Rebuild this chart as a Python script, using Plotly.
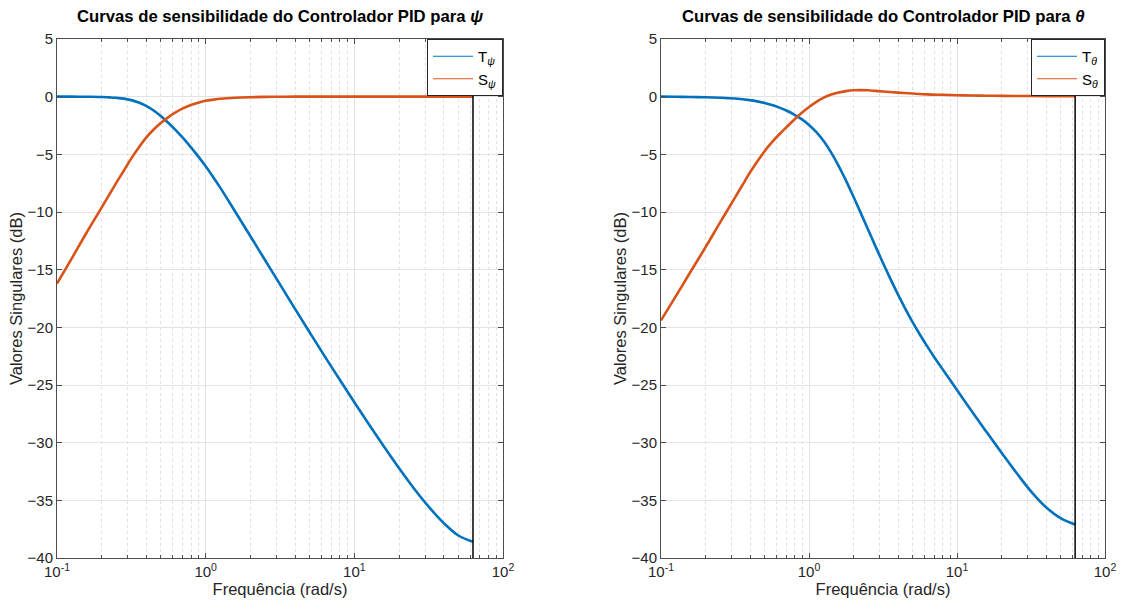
import plotly.graph_objects as go

# ---------------- data ----------------
nyquist_freq = 62.83

psi_T_freq = [0.1, 0.126, 0.158, 0.2, 0.224, 0.251, 0.282, 0.316, 0.355, 0.398, 0.447, 0.501, 0.562, 0.631,
              0.708, 0.794, 0.891, 1.0, 1.122, 1.259, 1.585, 1.995, 2.512, 3.162, 3.981, 5.012, 6.31, 7.943,
              10.0, 12.59, 15.85, 19.95, 25.12, 31.62, 39.81, 50.12, 62.83]
psi_T_db   = [0.0, 0.0, -0.01, -0.03, -0.06, -0.1, -0.17, -0.3, -0.5, -0.8, -1.2, -1.7, -2.28, -2.92,
              -3.62, -4.37, -5.18, -6.04, -6.96, -7.93, -10.0, -12.08, -14.18, -16.28, -18.38, -20.45, -22.5, -24.5,
              -26.5, -28.45, -30.35, -32.2, -33.95, -35.55, -36.95, -38.05, -38.6]

psi_S_freq = [0.1, 0.126, 0.158, 0.2, 0.251, 0.282, 0.316, 0.355, 0.398, 0.447, 0.501, 0.562, 0.631, 0.708,
              0.794, 0.891, 1.0, 1.122, 1.259, 1.585, 1.995, 2.512, 3.162, 3.981, 10.0, 62.83]
psi_S_db   = [-16.2, -14.0, -11.8, -9.6, -7.45, -6.4, -5.35, -4.4, -3.55, -2.85, -2.27, -1.77, -1.35, -1.0,
              -0.72, -0.52, -0.36, -0.26, -0.18, -0.09, -0.045, -0.02, -0.01, 0.0, 0.0, 0.0]

theta_T_freq = [0.1, 0.126, 0.158, 0.2, 0.251, 0.316, 0.398, 0.447, 0.501, 0.562, 0.631, 0.708, 0.794, 0.891,
                1.0, 1.122, 1.259, 1.413, 1.585, 1.778, 1.995, 2.239, 2.512, 2.818, 3.162, 3.548, 3.981, 4.467,
                5.012, 5.623, 6.31, 7.079, 7.943, 8.913, 10.0, 11.22, 12.59, 14.13, 15.85, 17.78, 19.95,
                25.12, 31.62, 39.81, 50.12, 62.83]
theta_T_db   = [0.0, -0.01, -0.03, -0.05, -0.09, -0.16, -0.3, -0.41, -0.55, -0.73, -0.95, -1.22, -1.55, -1.95,
                -2.45, -3.08, -3.87, -4.85, -6.0, -7.28, -8.65, -10.1, -11.55, -13.0, -14.42, -15.8, -17.12, -18.37,
                -19.54, -20.64, -21.67, -22.65, -23.58, -24.5, -25.43, -26.36, -27.28, -28.18, -29.08, -29.97, -30.85,
                -32.58, -34.22, -35.58, -36.55, -37.1]

theta_S_freq = [0.1, 0.126, 0.158, 0.2, 0.251, 0.316, 0.355, 0.398, 0.447, 0.501, 0.562, 0.631, 0.708, 0.794,
                0.891, 1.0, 1.122, 1.259, 1.413, 1.585, 1.778, 1.995, 2.239, 2.512, 2.818, 3.162, 3.981, 5.012,
                6.31, 7.943, 10.0, 12.59, 15.85, 19.95, 25.12, 31.62, 39.81, 50.12, 62.83]
theta_S_db   = [-19.4, -17.3, -15.2, -13.05, -10.9, -8.75, -7.67, -6.6, -5.62, -4.73, -3.95, -3.26, -2.62, -2.0,
                -1.42, -0.9, -0.45, -0.08, 0.18, 0.36, 0.48, 0.55, 0.565, 0.55, 0.5, 0.45, 0.35, 0.27,
                0.2, 0.16, 0.12, 0.1, 0.08, 0.07, 0.06, 0.055, 0.05, 0.05, 0.05]

x_tickvals = [0.1, 1, 10, 100]
x_ticktext = ["10<sup>-1</sup>", "10<sup>0</sup>", "10<sup>1</sup>", "10<sup>2</sup>"]
y_tickvals = [5, 0, -5, -10, -15, -20, -25, -30, -35, -40]

titles = ["<b>Curvas de sensibilidade do Controlador PID para <i>ψ</i></b>",
          "<b>Curvas de sensibilidade do Controlador PID para <i>θ</i></b>"]
legend_T = ["T<sub><i>ψ</i></sub>", "T<sub><i>θ</i></sub>"]
legend_S = ["S<sub><i>ψ</i></sub>", "S<sub><i>θ</i></sub>"]

# ---------------- styling ----------------
W, H = 1123, 610
BLUE = "#0072BD"
ORANGE = "#D95319"
AX = "#262626"
AXLINE = "#4d4d4d"
FONT = "Liberation Sans, Arial, Helvetica, sans-serif"

xdom = [[57 / W, 503 / W], [661 / W, 1105 / W]]
ydom = [(H - 558) / H, (H - 39) / H]

fig = go.Figure()

series = [(psi_T_freq, psi_T_db, psi_S_freq, psi_S_db),
          (theta_T_freq, theta_T_db, theta_S_freq, theta_S_db)]

for i, (tf, td, sf, sd) in enumerate(series):
    xa = "x" if i == 0 else "x2"
    ya = "y" if i == 0 else "y2"
    leg = "legend" if i == 0 else "legend2"
    fig.add_trace(go.Scatter(x=tf, y=td, mode="lines", xaxis=xa, yaxis=ya,
                             line=dict(color=BLUE, width=2.6, shape="spline", smoothing=1.0),
                             showlegend=False, hoverinfo="skip"))
    fig.add_trace(go.Scatter(x=sf, y=sd, mode="lines", xaxis=xa, yaxis=ya,
                             line=dict(color=ORANGE, width=2.6, shape="spline", smoothing=1.0),
                             showlegend=False, hoverinfo="skip"))
    # Nyquist frequency line
    fig.add_trace(go.Scatter(x=[nyquist_freq, nyquist_freq], y=[y_tickvals[0], y_tickvals[-1]],
                             mode="lines", xaxis=xa, yaxis=ya,
                             line=dict(color="black", width=1.5),
                             showlegend=False, hoverinfo="skip"))
    # legend entries (thin lines as in reference)
    fig.add_trace(go.Scatter(x=[None], y=[None], mode="lines", xaxis=xa, yaxis=ya,
                             line=dict(color=BLUE, width=1), name=legend_T[i], legend=leg))
    fig.add_trace(go.Scatter(x=[None], y=[None], mode="lines", xaxis=xa, yaxis=ya,
                             line=dict(color=ORANGE, width=1), name=legend_S[i], legend=leg))

axis_common_x = dict(
    type="log", range=[-1, 2], tickvals=x_tickvals, ticktext=x_ticktext,
    showline=True, linecolor=AXLINE, linewidth=1, mirror="allticks",
    ticks="inside", ticklen=5, tickcolor=AXLINE,
    showgrid=True, gridcolor="#e3e3e3", gridwidth=1,
    minor=dict(dtick="D1", ticks="inside", ticklen=3, tickcolor=AXLINE,
               showgrid=True, gridcolor="#e0e0e0", griddash="dot", gridwidth=1),
    tickfont=dict(family=FONT, size=15, color=AX),
    title=dict(text="Frequência (rad/s)", font=dict(family=FONT, size=16.5, color=AX), standoff=3),
    zeroline=False, automargin=False,
)
axis_common_y = dict(
    range=[-40, 5], tickvals=y_tickvals,
    showline=True, linecolor=AXLINE, linewidth=1, mirror="allticks",
    ticks="inside", ticklen=5, tickcolor=AXLINE,
    showgrid=True, gridcolor="#e3e3e3", gridwidth=1,
    tickfont=dict(family=FONT, size=15, color=AX),
    title=dict(text="Valores Singulares (dB)", font=dict(family=FONT, size=16.5, color=AX), standoff=0),
    zeroline=False, automargin=False,
)

legend_common = dict(yanchor="top", xanchor="right", bgcolor="white", bordercolor=AX, borderwidth=1,
                     itemwidth=40, font=dict(family=FONT, size=15, color="black"))

fig.update_layout(
    width=W, height=H,
    margin=dict(l=0, r=0, t=0, b=0),
    paper_bgcolor="white", plot_bgcolor="white",
    font=dict(family=FONT, color=AX),
    xaxis=dict(axis_common_x, domain=xdom[0], anchor="y"),
    yaxis=dict(axis_common_y, domain=ydom, anchor="x"),
    xaxis2=dict(axis_common_x, domain=xdom[1], anchor="y2"),
    yaxis2=dict(axis_common_y, domain=ydom, anchor="x2"),
    legend=dict(legend_common, x=xdom[0][1], y=ydom[1]),
    legend2=dict(legend_common, x=xdom[1][1], y=ydom[1]),
    annotations=[
        dict(text=titles[0], x=(xdom[0][0] + xdom[0][1]) / 2, y=(H - 17) / H,
             xref="paper", yref="paper", showarrow=False, xanchor="center", yanchor="middle",
             font=dict(family=FONT, size=16.7, color="black")),
        dict(text=titles[1], x=(xdom[1][0] + xdom[1][1]) / 2, y=(H - 17) / H,
             xref="paper", yref="paper", showarrow=False, xanchor="center", yanchor="middle",
             font=dict(family=FONT, size=16.7, color="black")),
    ],
)

fig.write_html("out.html")
